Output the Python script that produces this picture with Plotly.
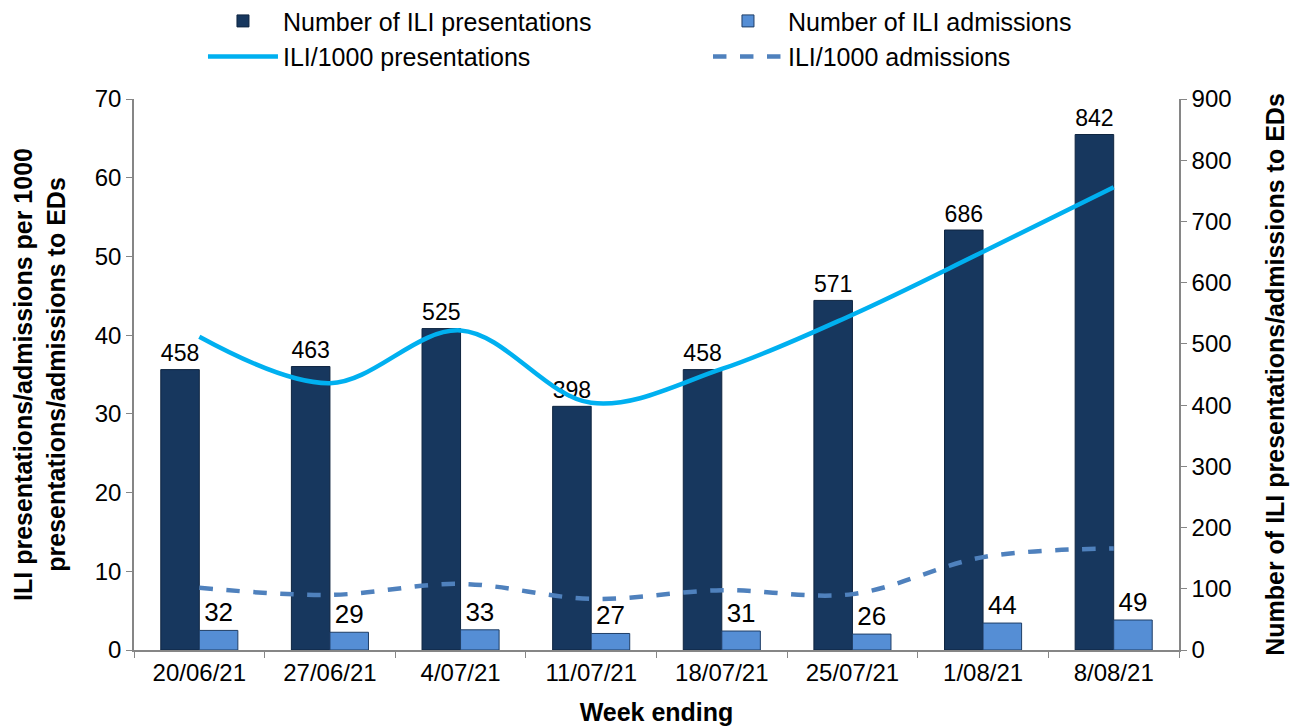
import plotly.graph_objects as go

weeks = ["20/06/21", "27/06/21", "4/07/21", "11/07/21",
         "18/07/21", "25/07/21", "1/08/21", "8/08/21"]
n_presentations = [458, 463, 525, 398, 458, 571, 686, 842]
n_admissions = [32, 29, 33, 27, 31, 26, 44, 49]
rate_presentations = [39.8, 33.9, 40.6, 31.4, 35.7, 42.6, 50.6, 58.8]
rate_admissions = [7.9, 7.0, 8.4, 6.5, 7.6, 7.1, 11.8, 12.9]

FONT = "Liberation Sans, Arial, sans-serif"
AXIS_GREY = "#868686"

fig = go.Figure()

# bars on the primary axis (placed on the right), lines on the overlay so they sit on top
fig.add_trace(go.Bar(
    x=weeks, y=n_presentations, name="Number of ILI presentations",
    marker=dict(color="#17375E", line=dict(color="#0F2540", width=1)),
    text=n_presentations, textposition="outside", cliponaxis=False,
    textfont=dict(size=26, color="black", family=FONT),
    yaxis="y"))
fig.add_trace(go.Bar(
    x=weeks, y=n_admissions, name="Number of ILI admissions",
    marker=dict(color="#558ED5", line=dict(color="#1F3E66", width=1)),
    text=n_admissions, textposition="outside", cliponaxis=False,
    textfont=dict(size=26, color="black", family=FONT),
    yaxis="y"))
fig.add_trace(go.Scatter(
    x=weeks, y=rate_presentations, name="ILI/1000 presentations",
    mode="lines", line=dict(color="#00B0F0", width=4.5, shape="spline", smoothing=1),
    yaxis="y2"))
fig.add_trace(go.Scatter(
    x=weeks, y=rate_admissions, name="ILI/1000 admissions",
    mode="lines", line=dict(color="#4F81BD", width=4.5, dash="dash",
                            shape="spline", smoothing=1),
    yaxis="y2"))

# page body adds an 8px offset, so the figure is 8px smaller and margins shifted
fig.update_layout(
    width=1290, height=718,
    margin=dict(l=126, r=119, t=91, b=76, autoexpand=False),
    plot_bgcolor="white", paper_bgcolor="white",
    font=dict(family=FONT, size=25, color="black"),
    barmode="group", bargap=0.41, bargroupgap=0,
    showlegend=True,
    legend=dict(orientation="h", x=0.066, y=1.183, xanchor="left", yanchor="top",
                entrywidth=420, itemwidth=70, traceorder="normal",
                font=dict(size=25, family=FONT)),
    xaxis=dict(
        type="category", showline=True, linecolor=AXIS_GREY, linewidth=1.5,
        ticks="outside", tickson="boundaries", ticklen=6, tickcolor=AXIS_GREY,
        tickfont=dict(size=24),
        title=dict(text="<b>Week ending</b>", font=dict(size=25), standoff=20)),
    yaxis=dict(
        side="right", range=[0, 900], dtick=100, showgrid=False, zeroline=False,
        showline=True, linecolor=AXIS_GREY, linewidth=1.5,
        ticks="outside", ticklen=6, tickcolor=AXIS_GREY, tickfont=dict(size=24),
        title=dict(text="<b>Number of ILI presentations/admissions to EDs</b>",
                   font=dict(size=25), standoff=36)),
    yaxis2=dict(
        overlaying="y", side="left", range=[0, 70], dtick=10, showgrid=False,
        zeroline=False, showline=True, linecolor=AXIS_GREY, linewidth=1.5,
        ticks="outside", ticklen=6, tickcolor=AXIS_GREY, tickfont=dict(size=24),
        title=dict(text="<b>ILI presentations/admissions per 1000<br>"
                        "presentations/admissions to EDs</b>",
                   font=dict(size=25), standoff=22)),
)

fig.write_html("out.html")
